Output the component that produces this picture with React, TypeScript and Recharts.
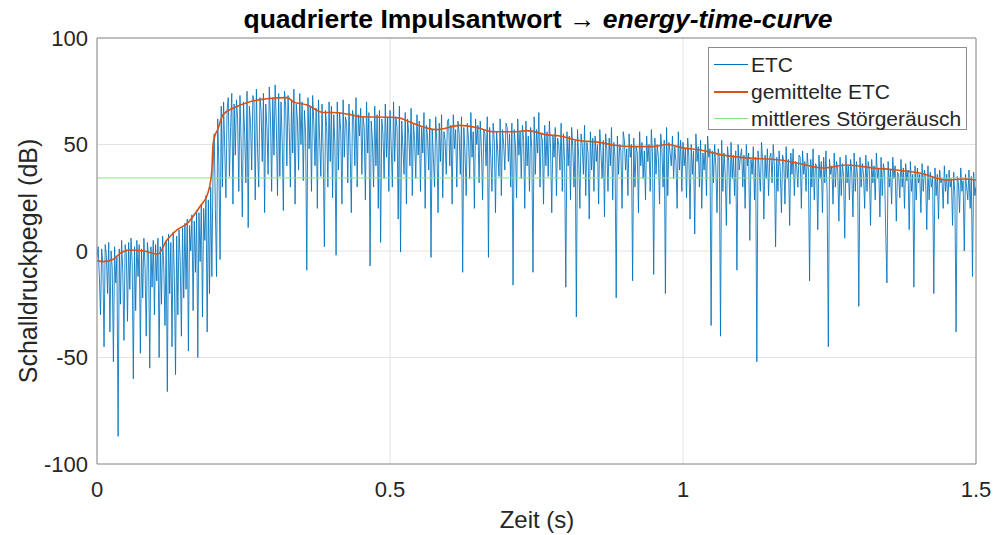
import { CartesianGrid, Line, LineChart, ReferenceLine, XAxis, YAxis } from 'recharts';

// ETC samples, one every 2 ms (values in dB)
const SAMPLE_STEP = 0.002;

// 0 – 0.198 s
const etcOnset = [
  -3, 2, -12, -30, 1, -6, -45, 3, -2, -20, 4, -38, 0, -8, -52, 2, -15, -3, -87, 1, -25, 5, -10, -42, 3,
  -1, -33, 4, -18, 6, -5, -60, 2, -28, 5, -12, 3, -48, 1, -22, 6, -8, -40, 4, -3, -55, 2, -17, 5, -30,
  3, -14, 6, -50, 2, -25, 7, -8, -35, 5, -66, 8, -20, 4, -45, 9, -12, -58, 7, -30, 10, -5, -40, 11, -22,
  13, -18, 15, -47, 12, 0, 17, -28, 14, -10, 19, -50, 18, -5, 22, -31, 20, 5, 26, -38, 24, -20, 30, -12, 38,
];

// 0.2 – 0.498 s
const etcPeak = [
  55, 20, -12, 62, 40, -4, 68, 30, 70, 48, 25, 66, 72, 35, 58, 74, 22, 69, 45, 71, 62, 28, 73, 50, 16,
  70, 55, 32, 75, 11, 68, 60, 38, 73, 70, 24, 76, 48, 30, 72, 66, 42, 74, 18, 69, 58, 36, 77, 63, 28,
  72, 45, 78, 60, 26, 74, 35, 70, 52, 19, 75, 68, 40, 73, 58, 30, 71, 46, 76, 22, 69, 62, 38, 74, 50,
  70, 33, 66, 55, -9, 72, 48, 68, 28, 73, 60, 40, 67, 20, 71, 52, 35, 69, 45, 2, 66, 58, 30, 70, 42,
  68, 25, 64, 50, -2, 70, 38, 65, 56, 22, 71, 44, 63, 60, 32, 69, 48, 18, 66, 62, 40, 72, 30, 64, 54,
  67, 36, 63, 58, 24, 70, 46, 65, -7, 61, 52, 30, 68, 40, 64, 20, 66, 4, 62, 55, 34, 69, 44, 63, 28,
];

// 0.5 – 0.998 s
const etcMid = [
  66, 50, 30, 70, 42, 63, 58, 15, 68, -0.5, 61, 48, 36, 65, 22, 62, 55, 40, 67, 26, 60, 52, 34, 64, 45,
  61, 28, 58, 46, 65, 20, 59, 54, 38, 62, -3, 57, 44, 30, 63, 50, 18, 60, 42, 64, 25, 56, 52, 36, 61,
  62, 40, 59, 22, 64, 48, 57, 30, 61, 55, 36, 63, -10, 58, 46, 26, 60, 52, 34, 65, 44, 56, 20, 62, 50,
  59, 32, 61, 48, 24, 57, 55, 40, 63, -3, 58, 44, 28, 60, 52, 18, 56, 46, 35, 62, 26, 57, 50, 38, 60,
  58, 42, 55, 30, 60, -16, 57, 50, 25, 62, 45, 56, 34, 59, 52, 20, 61, 40, 54, 28, 58, 48, -10, 63, 36,
  57, 46, 65, 30, 55, 52, 22, 59, 40, 56, 35, 61, 48, 18, 54, 44, 58, 26, 53, 50, 38, 60, 28, 55, 42,
  -17, 56, 40, 54, 24, 58, 48, 30, 52, -31, 57, 44, 20, 55, 50, 36, 59, 26, 51, 46, 15, 56, 38, 53, 28,
  54, 42, 50, 22, 57, 46, 34, 52, 16, 55, 48, 28, 53, 40, 58, 24, 51, 44, -22, 54, 36, 50, 47, 20, 56,
  52, 38, 48, 26, 55, 44, 50, -14, 53, 30, 49, 46, 18, 56, 40, 51, 34, 47, 24, 54, 42, 50, 28, 57, 45,
  -11, 53, 36, 50, 44, 22, 55, 48, 30, 52, -20, 58, 26, 51, 46, 40, 54, 34, 49, 42, 20, 56, 38, 52, 28,
];

// 1.0 – 1.5 s
const etcTail = [
  51, 40, 48, 25, 53, 44, 15, 50, 36, 47, 8, 55, 42, 49, 30, 52, 20, 46, 38, 50, 26, 54, 44, 48, -35,
  47, 32, 50, 40, 18, 48, 44, -40, 52, 28, 46, 36, 12, 49, 42, 22, 51, 34, 45, 26, 47, -9, 50, 38, 44,
  48, 30, 45, 20, 50, 40, 46, 5, 43, 36, 49, 24, 44, -52, 47, 38, 28, 51, 42, 15, 45, 34, 48, 26, 44,
  46, 32, 50, 40, 2, 44, 28, 47, 38, 18, 45, 42, 22, 49, 34, 43, 12, 46, 36, 48, 26, 42, 40, 30, 45,
  44, 20, 47, 36, 42, 28, 46, 38, -14, 43, 30, 48, 24, 41, 40, 10, 45, 34, 42, 18, 44, 32, 47, 26, -45,
  43, 36, 40, 22, 46, 30, 42, 38, 14, 44, 26, 41, 35, 6, 45, 32, 40, 24, 43, 37, 16, 46, 28, 42, 34,
  -26, 44, 30, 41, 36, 20, 45, 28, 42, 38, 12, 43, 32, 40, 24, 46, 34, 39, 16, 44, 26, 41, 37, 8, -15,
  42, 30, 38, 22, 44, 34, 40, 14, 37, 36, 25, 43, 30, 39, 20, 41, 33, 38, 10, 42, 28, 36, -17, 40, 24,
  39, 32, 36, 18, 41, 28, 38, 34, 10, 40, 24, 37, 30, 35, -20, 39, 26, 36, 15, 38, 32, 34, 20, 40, 28,
  36, 22, 38, 30, 34, 12, 37, 26, -38, 35, 32, 18, 39, 28, 33, 0, 36, 30, 24, 38, 20, 35, -12, 37, 26,
  30,
];

// gemittelte ETC
const smoothTimes = [
  0, 0.01, 0.027, 0.04, 0.056, 0.08, 0.104, 0.119, 0.137, 0.154, 0.176, 0.189, 0.194, 0.196, 0.198, 0.201,
  0.206, 0.215, 0.232, 0.26, 0.29, 0.325, 0.335, 0.359, 0.386, 0.403, 0.433, 0.45, 0.5, 0.517, 0.534, 0.58,
  0.619, 0.648, 0.676, 0.71, 0.734, 0.768, 0.79, 0.819, 0.858, 0.88, 0.914, 0.949, 0.973, 1.0, 1.03, 1.068,
  1.109, 1.166, 1.194, 1.239, 1.28, 1.324, 1.365, 1.404, 1.45, 1.478, 1.5,
];
const smoothDb = [
  -4.5, -5, -4, -1, 0.5, 0, -1.5, 5, 10, 13, 21, 27, 33, 38, 50, 54,
  57, 64, 67, 70, 71.5, 72, 70, 68.5, 65, 65, 64, 63, 62.8, 62.4, 60.6, 57,
  59, 58, 56, 56, 56.5, 54.5, 54, 52, 51, 49.8, 49, 49, 50, 48.4, 47.4, 45,
  43.7, 42.7, 41.3, 39, 40.4, 39, 38, 36.6, 33.3, 33.8, 33.3,
];

const noiseLevel = 34.3;
const xTicks = [0, 0.5, 1, 1.5];
const yTicks = [-100, -50, 0, 50, 100];

const etcData = [...etcOnset, ...etcPeak, ...etcMid, ...etcTail].map((v, i) => ({
  t: Number((i * SAMPLE_STEP).toFixed(4)),
  v,
}));
const smoothData = smoothTimes.map((t, i) => ({ t, v: smoothDb[i] }));
const noiseData = [
  { t: 0, v: noiseLevel },
  { t: 1.5, v: noiseLevel },
];

const FONT = '"Liberation Sans", Arial, Helvetica, sans-serif';
const TEXT = '#262626';
const AXIS = '#8c8c8c';

const legendItems = [
  { label: 'ETC', color: '#0072BD', width: 0.8 },
  { label: 'gemittelte ETC', color: '#D95319', width: 2 },
  { label: 'mittleres Störgeräusch', color: '#8ce08c', width: 1 },
];

export default function App() {
  return (
    <div style={{ position: 'absolute', left: 0, top: 0, width: 997, height: 535, background: '#fff', fontFamily: FONT }}>
      <LineChart width={997} height={535} margin={{ top: 38, right: 21, left: 0, bottom: 0 }}>
        <CartesianGrid stroke="#e3e3e3" />
        <XAxis
          type="number"
          dataKey="t"
          domain={[0, 1.5]}
          ticks={xTicks}
          allowDataOverflow
          height={71}
          tickSize={0}
          tickMargin={17}
          stroke={AXIS}
          tick={{ fill: TEXT, fontSize: 22, fontFamily: FONT }}
        />
        <YAxis
          type="number"
          domain={[-100, 100]}
          ticks={yTicks}
          allowDataOverflow
          width={97}
          tickSize={0}
          tickMargin={9}
          stroke={AXIS}
          tick={{ fill: TEXT, fontSize: 22, fontFamily: FONT }}
        />
        <ReferenceLine y={100} stroke={AXIS} />
        <ReferenceLine x={1.5} stroke={AXIS} />
        <Line
          data={etcData}
          dataKey="v"
          type="linear"
          stroke="#0072BD"
          strokeWidth={0.85}
          dot={false}
          isAnimationActive={false}
        />
        <Line
          data={noiseData}
          dataKey="v"
          type="linear"
          stroke="#8ce08c"
          strokeWidth={1}
          dot={false}
          isAnimationActive={false}
        />
        <Line
          data={smoothData}
          dataKey="v"
          type="monotone"
          stroke="#D95319"
          strokeWidth={1.6}
          dot={false}
          isAnimationActive={false}
        />
      </LineChart>

      <svg width={997} height={535} style={{ position: 'absolute', left: 0, top: 0, pointerEvents: 'none' }}>
        <text x={538} y={28} textAnchor="middle" fontSize={26.5} fontWeight="bold" fill="#000" fontFamily={FONT}>
          quadrierte Impulsantwort <tspan fontWeight="normal">→</tspan>{' '}
          <tspan fontStyle="italic">energy-time-curve</tspan>
        </text>
        <text x={537} y={528} textAnchor="middle" fontSize={24} fill={TEXT} fontFamily={FONT}>
          Zeit (s)
        </text>
        <text
          x={37}
          y={261}
          textAnchor="middle"
          fontSize={25}
          fill={TEXT}
          fontFamily={FONT}
          transform="rotate(-90, 37, 261)"
        >
          Schalldruckpegel (dB)
        </text>
      </svg>

      <div
        style={{
          position: 'absolute',
          left: 708,
          top: 47,
          width: 257,
          height: 81,
          border: `1px solid ${AXIS}`,
          background: '#fff',
        }}
      >
        {legendItems.map((item, i) => (
          <div
            key={item.label}
            style={{ position: 'absolute', left: 0, top: 3 + i * 27, height: 27, display: 'flex', alignItems: 'center' }}
          >
            <div style={{ marginLeft: 5, width: 34, height: 0, borderTop: `${item.width}px solid ${item.color}` }} />
            <span style={{ marginLeft: 3, fontSize: 21, color: TEXT, whiteSpace: 'nowrap', lineHeight: '27px' }}>
              {item.label}
            </span>
          </div>
        ))}
      </div>
    </div>
  );
}
